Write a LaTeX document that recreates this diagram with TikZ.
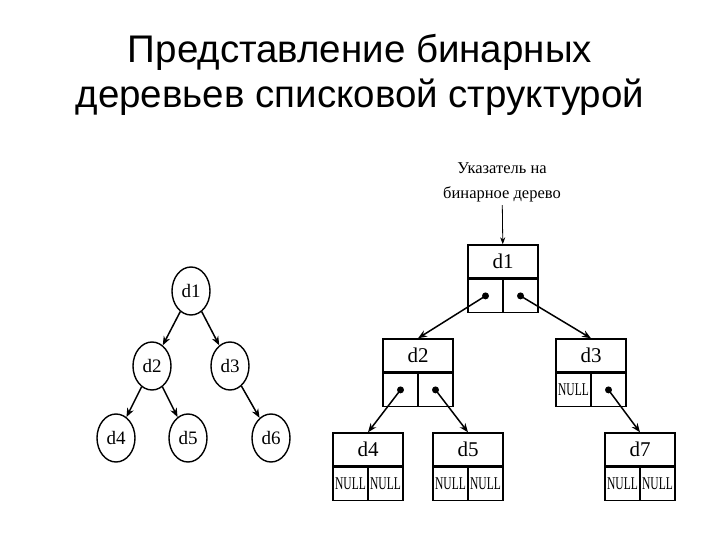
\documentclass[tikz,border=0pt]{standalone}
\usepackage{fontspec}
\setmainfont{Liberation Serif}
\newfontfamily\titlefont{Liberation Sans}
\usetikzlibrary{shapes.geometric,arrows.meta}

\newcommand{\nulltxt}{\scalebox{0.64}[1]{\fontsize{18}{18}\selectfont NULL}}

\tikzset{
  treenode/.style={draw,line width=1.4pt,ellipse,minimum width=38pt,minimum height=48pt,inner sep=0pt,font=\fontsize{19}{19}\selectfont},
  datacell/.style={draw,line width=1.4pt,minimum width=70pt,minimum height=33pt,inner sep=0pt,font=\fontsize{21}{21}\selectfont},
  ptrcell/.style={draw,line width=1.4pt,minimum width=35pt,minimum height=33pt,inner sep=0pt},
  link/.style={-{Stealth[length=9pt,width=7pt]},line width=1.5pt},
  ptrdot/.style={circle,fill,inner sep=0pt,minimum size=7pt}
}

\begin{document}
\begin{tikzpicture}[x=1pt,y=-1pt]
\useasboundingbox[fill=white] (0,0) rectangle (720,540);

% title
\node[anchor=base,font=\titlefont\fontsize{38.5}{38.5}\selectfont] (title1) at (360,63) {Представление бинарных};
\node[anchor=base,font=\titlefont\fontsize{38.5}{38.5}\selectfont] (title2) at (360,108) {деревьев списковой структурой};

% left: the tree
\node[treenode] (l1) at (191,291) {d1};
\node[treenode] (l2) at (152,366) {d2};
\node[treenode] (l3) at (230,366) {d3};
\node[treenode] (l4) at (116,438) {d4};
\node[treenode] (l5) at (188,438) {d5};
\node[treenode] (l6) at (271,438) {d6};

\draw[link] (l1) -- (l2);
\draw[link] (l1) -- (l3);
\draw[link] (l2) -- (l4);
\draw[link] (l2) -- (l5);
\draw[link] (l3) -- (l6);

% right: the same tree as linked records
\node[align=center,font=\fontsize{16.5}{25}\selectfont] (ptr) at (502,182) {Указатель на\\бинарное дерево};

\node[datacell] (r1) at (503,261.5) {d1};
\node[ptrcell,anchor=north west] (r1l) at (r1.south west) {};
\node[ptrcell,anchor=north east] (r1r) at (r1.south east) {};

\node[datacell] (r2) at (418,355.5) {d2};
\node[ptrcell,anchor=north west] (r2l) at (r2.south west) {};
\node[ptrcell,anchor=north east] (r2r) at (r2.south east) {};

\node[datacell] (r3) at (591,355.5) {d3};
\node[ptrcell,anchor=north west] (r3l) at (r3.south west) {\nulltxt};
\node[ptrcell,anchor=north east] (r3r) at (r3.south east) {};

\node[datacell] (r4) at (368,449.5) {d4};
\node[ptrcell,anchor=north west] (r4l) at (r4.south west) {\nulltxt};
\node[ptrcell,anchor=north east] (r4r) at (r4.south east) {\nulltxt};

\node[datacell] (r5) at (468,449.5) {d5};
\node[ptrcell,anchor=north west] (r5l) at (r5.south west) {\nulltxt};
\node[ptrcell,anchor=north east] (r5r) at (r5.south east) {\nulltxt};

\node[datacell] (r7) at (640,449.5) {d7};
\node[ptrcell,anchor=north west] (r7l) at (r7.south west) {\nulltxt};
\node[ptrcell,anchor=north east] (r7r) at (r7.south east) {\nulltxt};

% pointers
\node[ptrdot] (p1l) at (r1l.center) {};
\node[ptrdot] (p1r) at (r1r.center) {};
\node[ptrdot] (p2l) at (r2l.center) {};
\node[ptrdot] (p2r) at (r2r.center) {};
\node[ptrdot] (p3r) at (r3r.center) {};

\draw[line width=0.8pt,-{Stealth[length=7pt,width=5pt]}] (ptr) -- (r1);
\draw[link] (p1l.center) -- (r2.north);
\draw[link] (p1r.center) -- (r3.north);
\draw[link] (p2l.center) -- (r4.north);
\draw[link] (p2r.center) -- (r5.north);
\draw[link] (p3r.center) -- (r7.north);
\end{tikzpicture}
\end{document}
